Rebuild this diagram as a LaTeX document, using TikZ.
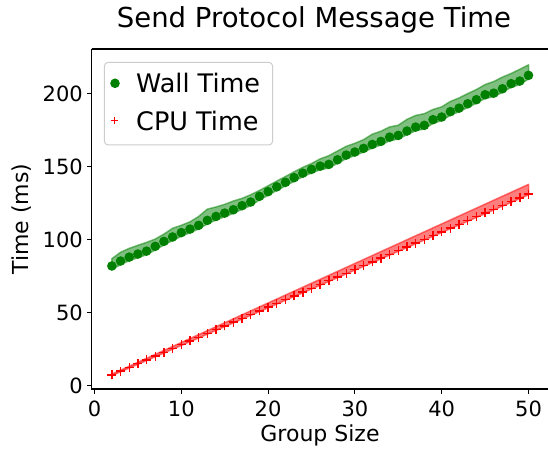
\documentclass[tikz,border=0pt]{standalone}
\usepackage{fontspec}
\setmainfont{DejaVu Sans}
\definecolor{mplgreen}{HTML}{008000}
\definecolor{mplred}{HTML}{FF0000}
\definecolor{legedge}{HTML}{CCCCCC}
\tikzset{
  spine/.style={black, line width=1.1pt},
  tickmark/.style={black, line width=1pt},
  ticklbl/.style={inner sep=0pt, font=\fontsize{21pt}{25pt}\selectfont},
  axlbl/.style={inner sep=0pt, font=\fontsize{22pt}{26pt}\selectfont},
  greenband/.style={fill=mplgreen, fill opacity=0.5, draw=mplgreen, draw opacity=0.5, line width=1.5pt, line join=round},
  redband/.style={fill=mplred, fill opacity=0.5, draw=mplred, draw opacity=0.5, line width=1.5pt, line join=round},
  plusmark/.style={mplred, line width=1.4pt},
  leglbl/.style={inner sep=0pt, anchor=west, font=\fontsize{25.5pt}{30pt}\selectfont},
}
\begin{document}
\begin{tikzpicture}[x=1pt,y=1pt]
\useasboundingbox (0,0) rectangle (548,450);
% title
\node[inner sep=0pt, anchor=base, font=\fontsize{27.5pt}{32pt}\selectfont] (title) at (314,422) {Send Protocol Message Time};
% data
\begin{scope}[shift={(94.5pt,64.5pt)}, x=8.68pt, y=1.4575pt]
  % wall band
  \filldraw[greenband] plot coordinates {(2,79.5) (3,82.9) (4,85.6) (5,87.7) (6,89.7) (7,93.0) (8,96.4) (9,99.4) (10,102.4) (11,104.8) (12,107.4) (13,110.8) (14,113.5) (15,115.8) (16,118.1) (17,120.9) (18,123.4) (19,127.3) (20,130.5) (21,133.8) (22,136.9) (23,140.1) (24,143.2) (25,145.8) (26,148.0) (27,149.2) (28,152.4) (29,155.6) (30,157.7) (31,160.2) (32,162.9) (33,165.0) (34,167.9) (35,169.1) (36,172.1) (37,174.8) (38,176.0) (39,179.9) (40,181.7) (41,185.4) (42,187.8) (43,190.8) (44,193.6) (45,197.0) (46,198.1) (47,201.1) (48,204.6) (49,206.4) (50,210.3)
    (50,220.0) (49,217.0) (48,214.1) (47,211.6) (46,208.6) (45,206.5) (44,203.1) (43,200.3) (42,197.3) (41,194.9) (40,191.2) (39,189.4) (38,186.5) (37,185.3) (36,182.6) (35,178.6) (34,177.4) (33,174.5) (32,172.4) (31,168.7) (30,166.2) (29,164.1) (28,160.9) (27,157.7) (26,155.5) (25,152.3) (24,149.7) (23,146.6) (22,143.4) (21,140.3) (20,137.0) (19,133.8) (18,130.9) (17,128.4) (16,126.6) (15,124.3) (14,122.5) (13,121.0) (12,116.0) (11,112.3) (10,109.9) (9,107.9) (8,103.9) (7,100.5) (6,98.2) (5,96.2) (4,94.1) (3,91.4) (2,87.0)} -- cycle;
  % wall dots
  \foreach \v/\t in {2/82.0,3/85.4,4/88.1,5/90.2,6/92.2,7/95.5,8/98.9,9/101.9,10/104.9,11/107.3,12/109.9,13/113.3,14/116.0,15/118.3,16/120.6,17/123.4,18/125.9,19/129.8,20/133.0,21/136.3,22/139.4,23/142.6,24/145.7,25/148.3,26/150.5,27/151.7,28/154.9,29/158.1,30/160.2,31/162.7,32/165.4,33/167.5,34/170.4,35/171.6,36/174.6,37/177.3,38/178.5,39/182.4,40/184.2,41/187.9,42/190.3,43/193.3,44/196.1,45/199.5,46/200.6,47/203.6,48/207.1,49/208.9,50/212.8}
    \fill[mplgreen] (\v,\t) circle[radius=4.8pt];
  % cpu band
  \filldraw[redband] (2,6.8) -- (50,130.8) -- (50,138.0) -- (2,7.8) -- cycle;
  % cpu markers
  \foreach \v in {2,...,50} {
    \pgfmathsetmacro{\t}{7.3+2.583*(\v-2)}
    \draw[plusmark] (\v,\t) +(-4.5pt,0) -- +(4.5pt,0) (\v,\t) +(0,-4.5pt) -- +(0,4.5pt);
  }
\end{scope}
% spines
\draw[spine] (91.5,401) -- (91.5,61) -- (548,61);
\draw[spine] (91.5,401) -- (548,401);
% x ticks
\foreach \v in {0,10,20,30,40,50} {
  \draw[tickmark] ({94.5+8.68*\v},61) -- ({94.5+8.68*\v},56);
  \node[ticklbl, anchor=base] (xt\v) at ({94.5+8.68*\v},33.5) {\v};
}
% y ticks
\foreach \t in {0,50,100,150,200} {
  \draw[tickmark] (91.5,{64.5+1.4575*\t}) -- (86.5,{64.5+1.4575*\t});
  \node[ticklbl, anchor=east] (yt\t) at (83,{64.5+1.4575*\t}) {\t};
}
% axis labels
\node[axlbl, anchor=base] (xlabel) at (320,8.5) {Group Size};
\node[axlbl, rotate=90] (ylabel) at (22,231) {Time (ms)};
% legend
\draw[legedge, fill=white, fill opacity=0.8, rounded corners=4pt, line width=1pt] (104.3,305) rectangle (272.7,387.7);
\fill[mplgreen] (115,366.7) circle[radius=4.8pt];
\draw[plusmark] (110.8,329.3) -- (117.8,329.3) (114.3,325.8) -- (114.3,332.8);
\node[leglbl] (legwall) at (136,366.7) {Wall Time};
\node[leglbl] (legcpu) at (136,329.3) {CPU Time};
\end{tikzpicture}
\end{document}
